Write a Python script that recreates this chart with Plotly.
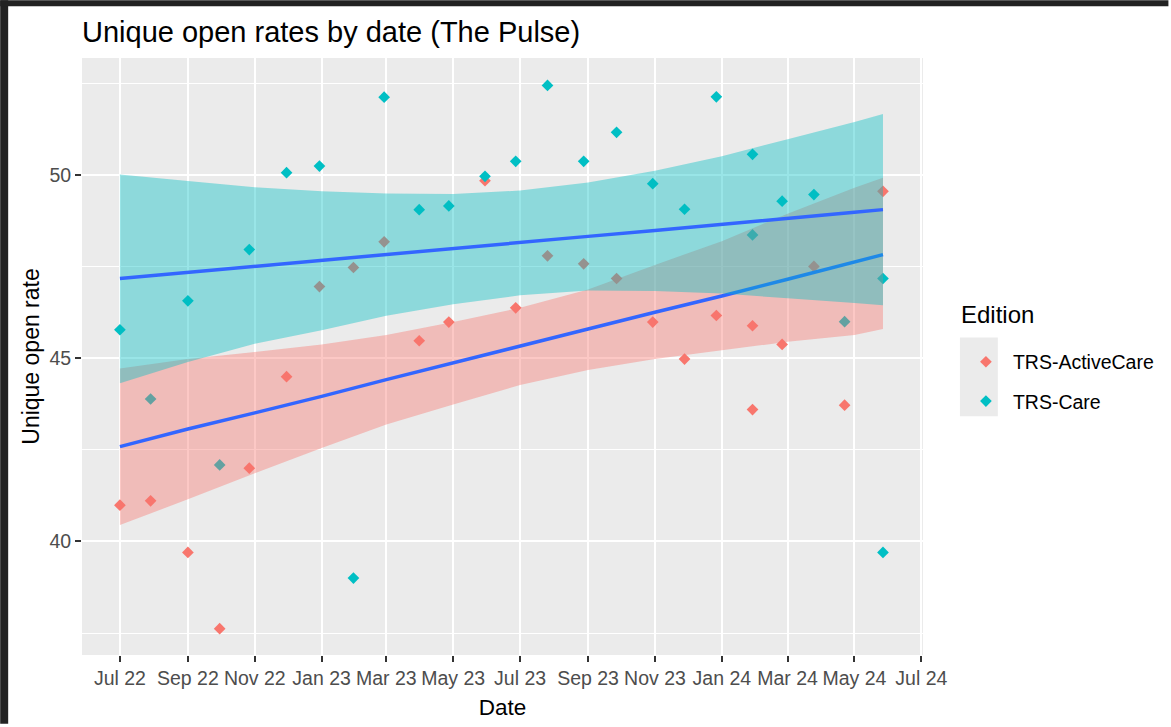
import plotly.graph_objects as go

# TRS-ActiveCare points
active_dates = ["2022-07-01", "2022-07-29", "2022-09-01", "2022-09-30", "2022-10-27", "2022-11-30",
                "2022-12-30", "2023-01-30", "2023-02-27", "2023-03-31", "2023-04-27", "2023-05-30",
                "2023-06-27", "2023-07-26", "2023-08-28", "2023-09-27", "2023-10-30", "2023-11-28",
                "2023-12-27", "2024-01-29", "2024-01-29", "2024-02-25", "2024-03-25", "2024-04-22",
                "2024-05-27"]
active_rate = [40.99, 41.11, 39.70, 37.62, 42.00, 44.50,
               46.96, 47.48, 48.18, 45.48, 45.99, 49.85,
               46.38, 47.80, 47.58, 47.18, 45.99, 44.98,
               46.17, 45.89, 43.60, 45.38, 47.51, 43.72,
               49.56]

# TRS-Care points
care_dates = ["2022-07-01", "2022-07-29", "2022-09-01", "2022-09-30", "2022-10-27", "2022-11-30",
              "2022-12-30", "2023-01-30", "2023-02-27", "2023-03-31", "2023-04-27", "2023-05-30",
              "2023-06-27", "2023-07-26", "2023-08-28", "2023-09-27", "2023-10-30", "2023-11-28",
              "2023-12-27", "2024-01-29", "2024-01-29", "2024-02-25", "2024-03-25", "2024-04-22",
              "2024-05-27", "2024-05-27"]
care_rate = [45.78, 43.89, 46.57, 42.09, 47.97, 50.07,
             50.25, 39.00, 52.13, 49.06, 49.16, 49.97,
             50.38, 52.45, 50.38, 51.17, 49.77, 49.07,
             52.14, 50.57, 48.37, 49.29, 49.47, 46.00,
             47.18, 39.70]

# smoother (lm fit + 95% band)
fit_dates = ["2022-07-01", "2022-09-01", "2022-11-01", "2023-01-01", "2023-03-01", "2023-05-01",
             "2023-07-01", "2023-09-01", "2023-11-01", "2024-01-01", "2024-03-01", "2024-05-01",
             "2024-05-27"]
active_fit = [42.59, 43.07, 43.51, 43.96, 44.42, 44.87, 45.33, 45.80, 46.26, 46.70, 47.16, 47.62, 47.83]
active_hi = [44.72, 44.98, 45.17, 45.38, 45.64, 45.99, 46.38, 46.88, 47.55, 48.20, 48.95, 49.66, 49.93]
active_lo = [40.45, 41.15, 41.86, 42.55, 43.19, 43.74, 44.27, 44.68, 44.98, 45.22, 45.45, 45.64, 45.80]
care_fit = [47.18, 47.35, 47.51, 47.67, 47.84, 48.00, 48.16, 48.33, 48.49, 48.65, 48.82, 48.99, 49.06]
care_hi = [50.02, 49.84, 49.67, 49.56, 49.50, 49.49, 49.58, 49.80, 50.12, 50.52, 50.98, 51.45, 51.67]
care_lo = [44.32, 44.90, 45.40, 45.77, 46.16, 46.48, 46.72, 46.85, 46.84, 46.77, 46.64, 46.51, 46.45]

RED = "#F8766D"
TEAL = "#00BFC4"
FONT = "Liberation Sans, Arial, sans-serif"

fig = go.Figure()

# points first, smoother on top (like ggplot layer order)
fig.add_trace(go.Scatter(x=active_dates, y=active_rate, mode="markers", name="TRS-ActiveCare",
                         legendgroup="a", marker=dict(symbol="diamond", size=9, color=RED)))
fig.add_trace(go.Scatter(x=care_dates, y=care_rate, mode="markers", name="TRS-Care",
                         legendgroup="b", marker=dict(symbol="diamond", size=9, color=TEAL)))

for fit, lo, hi, fill in [(active_fit, active_lo, active_hi, "rgba(248,118,109,0.4)"),
                          (care_fit, care_lo, care_hi, "rgba(0,191,196,0.4)")]:
    fig.add_trace(go.Scatter(x=fit_dates + fit_dates[::-1], y=hi + lo[::-1], mode="none",
                             fill="toself", fillcolor=fill, showlegend=False, hoverinfo="skip"))
    fig.add_trace(go.Scatter(x=fit_dates, y=fit, mode="lines", showlegend=False,
                             line=dict(color="#3366FF", width=3.5)))

# plot area in pixels: x 82..925, y 58..658
ml, mr, mt, mb = 82, 246, 58, 69
pw, ph = 1171 - ml - mr, 727 - mt - mb

def px(x):
    return (x - ml) / pw

def py(y):
    return (727 - mb - y) / ph

fig.update_layout(
    width=1171, height=727,
    margin=dict(l=ml, r=mr, t=mt, b=mb),
    paper_bgcolor="white", plot_bgcolor="#EBEBEB",
    font=dict(family=FONT, color="black"),
    title=dict(text="Unique open rates by date (The Pulse)", x=0, xref="paper", xanchor="left",
               y=1 - 32 / 727, yref="container", yanchor="middle", font=dict(size=29, color="black")),
    legend=dict(x=px(961), xanchor="left", y=py(344), yanchor="top",
                font=dict(size=19.5, color="black"),
                tracegroupgap=11, bgcolor="rgba(0,0,0,0)", itemwidth=44),
    showlegend=True,
    annotations=[dict(text="Edition", xref="paper", yref="paper", x=px(961), y=py(316),
                      xanchor="left", yanchor="middle", showarrow=False,
                      font=dict(size=24, color="black"))],
    shapes=[
        # legend key background
        dict(type="rect", xref="paper", yref="paper", x0=px(962), x1=px(1000), y0=py(418), y1=py(339),
             fillcolor="#EBEBEB", line=dict(width=0), layer="above"),
        # dark screenshot frame
        dict(type="rect", xref="paper", yref="paper", x0=px(0), x1=px(8), y0=py(727), y1=py(0),
             fillcolor="#222222", line=dict(width=0)),
        dict(type="rect", xref="paper", yref="paper", x0=px(0), x1=px(1171), y0=py(6), y1=py(0),
             fillcolor="#222222", line=dict(width=0)),
    ],
)

fig.update_xaxes(
    type="date", range=["2022-05-27 10:00", "2024-07-02 12:00"],
    tick0="2022-07-01", dtick="M2", tickformat="%b %y",
    showgrid=True, gridcolor="white", gridwidth=2, zeroline=False,
    ticks="outside", ticklen=6, tickwidth=1.5, tickcolor="#333333",
    tickfont=dict(size=19.5, color="#4D4D4D"),
    title=dict(text="Date", font=dict(size=22.5, color="black"), standoff=10),
)
fig.update_yaxes(
    range=[36.9, 53.2], tickvals=[40, 45, 50],
    showgrid=True, gridcolor="white", gridwidth=2, zeroline=False,
    minor=dict(tickvals=[37.5, 42.5, 47.5, 52.5], showgrid=True, gridcolor="white", gridwidth=1),
    ticks="outside", ticklen=6, tickwidth=1.5, tickcolor="#333333",
    tickfont=dict(size=19.5, color="#4D4D4D"),
    title=dict(text="Unique open rate", font=dict(size=23, color="black"), standoff=3),
)

# the page body has a default 8px margin; drop it so the figure sits at the window origin
fig.write_html("out.html", config={"displayModeBar": False},
               post_script="document.body.style.margin='0';")
